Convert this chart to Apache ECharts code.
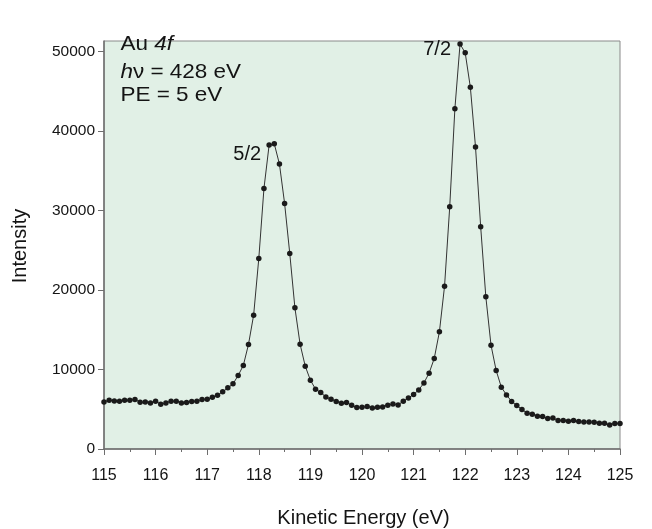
<!DOCTYPE html>
<html><head><meta charset="utf-8">
<script src="https://cdn.jsdelivr.net/npm/echarts@6/dist/echarts.min.js"></script>
<style>html,body{margin:0;padding:0;background:#fff}#c{width:652px;height:529px}</style>
</head><body><div id="c"></div>
<script>
var energyStart = 115.0, energyStep = 0.1;
var intensity = [
 5925, 6138, 6050, 6013, 6138, 6138, 6226, 5887, 5925, 5799,
 6013, 5635, 5799, 6013, 6013, 5799, 5849, 5975, 6013, 6226,
 6264, 6516, 6767, 7183, 7686, 8189, 9245, 10503, 13145, 16830,
 23962, 32767, 38214, 38377, 35824, 30881, 24591, 17748,
 13182, 10415, 8654, 7522, 7107, 6553, 6264, 5975, 5761, 5849,
 5509, 5220, 5258, 5346, 5170, 5258, 5296, 5509, 5673, 5547,
 6013, 6428, 6855, 7434, 8314, 9535, 11384,
 14730,
 20478, 30453, 42780, 50918, 49824, 45472, 37962, 27937, 19132,
 13057, 9874, 7774, 6805, 5975, 5472, 4969, 4503, 4377, 4126,
 4088, 3836, 3912, 3585, 3585, 3497, 3585, 3459, 3409, 3409,
 3371, 3245, 3245, 3031, 3208, 3208
];
var xTicks = [115,116,117,118,119,120,121,122,123,124,125];
var yTicks = [0,10000,20000,30000,40000,50000];
var peakLabels = [{text:'5/2', x:118.2, y:38377}, {text:'7/2', x:121.9, y:50918}];

var data = intensity.map(function(v,i){ return [+(energyStart + i*energyStep).toFixed(1), v]; });

var chart = echarts.init(document.getElementById('c'), null, {renderer:'canvas'});
var font = '"Liberation Sans", Arial, sans-serif';
var ink = '#141414';
function txt(parts, x, y) {
  return {type:'text', x:x, y:y, scaleX:1.07, originX:0, originY:0, silent:true,
    style:{text:parts, fontSize:21, fontFamily:font, fill:ink, textVerticalAlign:'middle',
      rich:{n:{fontSize:21, fontFamily:font, fill:ink}, i:{fontSize:21, fontFamily:font, fontStyle:'italic', fill:ink}}}};
}
chart.setOption({
  animation:false,
  backgroundColor:'#fff',
  grid:{left:104, right:32, top:41, bottom:80, show:true, backgroundColor:'#e1f0e6', borderColor:'#8a8a8a', borderWidth:1},
  xAxis:{type:'value', min:115, max:125, interval:1,
    axisLine:{lineStyle:{color:'#6e6e6e', width:1.5}},
    axisTick:{show:true, length:6, lineStyle:{color:'#6e6e6e'}},
    minorTick:{show:true, splitNumber:2, length:3, lineStyle:{color:'#6e6e6e'}},
    splitLine:{show:false},
    axisLabel:{margin:19, fontSize:16, color:ink, fontFamily:font, customValues:xTicks}
  },
  yAxis:{type:'value', min:0, max:51300, interval:10000,
    axisLine:{show:true, lineStyle:{color:'#6e6e6e', width:1.5}},
    axisTick:{show:true, length:6, lineStyle:{color:'#6e6e6e'}, customValues:yTicks},
    splitLine:{show:false},
    axisLabel:{margin:9, fontSize:15.5, color:ink, fontFamily:font, customValues:yTicks,
      formatter:function(v){ return String(v); }}
  },
  series:[{
    type:'line', data:data, showAllSymbol:true, symbol:'circle', symbolSize:5.5,
    itemStyle:{color:'#1a1a1a'}, lineStyle:{color:'#333', width:1},
    label:{show:false}, emphasis:{disabled:true},
    markPoint:{symbol:'circle', symbolSize:0, silent:true,
      label:{show:true, color:ink, fontSize:20, fontFamily:font, position:'left', distance:8},
      data:[
        {coord:[peakLabels[0].x, peakLabels[0].y], label:{formatter:peakLabels[0].text, offset:[0,11]}},
        {coord:[peakLabels[1].x, peakLabels[1].y], label:{formatter:peakLabels[1].text, offset:[0,5], distance:9}}
      ]
    }
  }],
  graphic:[
    txt('{n|Au }{i|4f}', 120.5, 44.5),
    txt('{i|h}{n|ν = 428 eV}', 120.5, 72),
    txt('{n|PE = 5 eV}', 120.5, 95.5),
    {type:'text', x:20.5, y:246, rotation:Math.PI/2, silent:true,
      style:{text:'Intensity', fontSize:20, fontFamily:font, fill:ink, textAlign:'center', textVerticalAlign:'middle'}},
    {type:'text', x:363.5, y:518, silent:true,
      style:{text:'Kinetic Energy (eV)', fontSize:20, fontFamily:font, fill:ink, textAlign:'center', textVerticalAlign:'middle'}}
  ]
});
</script></body></html>
